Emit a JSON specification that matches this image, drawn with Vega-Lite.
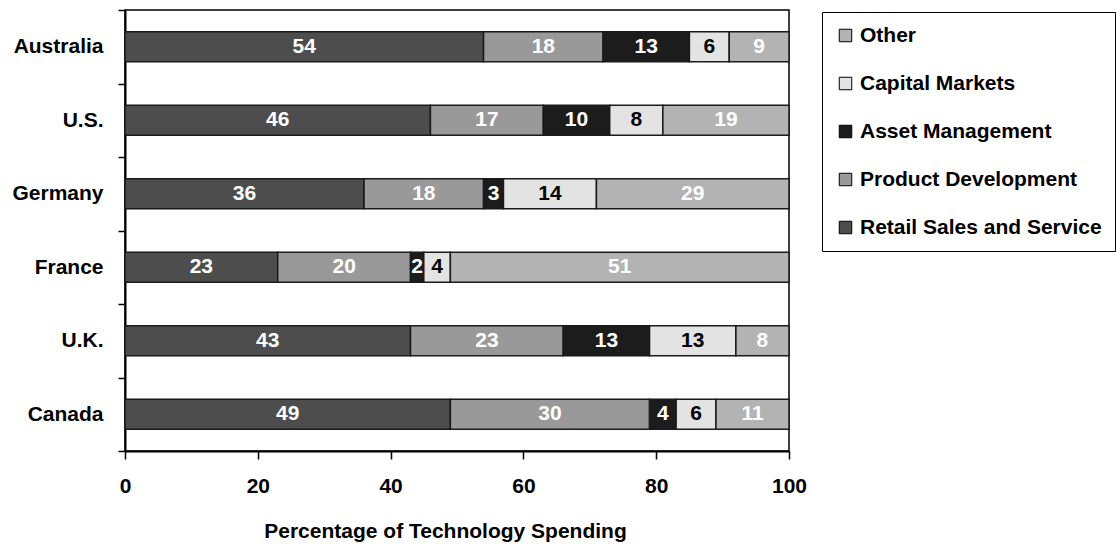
{
  "$schema": "https://vega.github.io/schema/vega-lite/v6.json",
  "width": 664,
  "height": 441,
  "autosize": "none",
  "padding": {"left": 125, "top": 10, "right": 327, "bottom": 93},
  "background": "white",
  "config": {
    "font": "Liberation Sans",
    "view": {"stroke": "black", "strokeWidth": 1.5}
  },
  "data": {
    "values": [
      {"country": "Australia", "category": "Retail Sales and Service", "value": 54},
      {"country": "Australia", "category": "Product Development", "value": 18},
      {"country": "Australia", "category": "Asset Management", "value": 13},
      {"country": "Australia", "category": "Capital Markets", "value": 6},
      {"country": "Australia", "category": "Other", "value": 9},
      {"country": "U.S.", "category": "Retail Sales and Service", "value": 46},
      {"country": "U.S.", "category": "Product Development", "value": 17},
      {"country": "U.S.", "category": "Asset Management", "value": 10},
      {"country": "U.S.", "category": "Capital Markets", "value": 8},
      {"country": "U.S.", "category": "Other", "value": 19},
      {"country": "Germany", "category": "Retail Sales and Service", "value": 36},
      {"country": "Germany", "category": "Product Development", "value": 18},
      {"country": "Germany", "category": "Asset Management", "value": 3},
      {"country": "Germany", "category": "Capital Markets", "value": 14},
      {"country": "Germany", "category": "Other", "value": 29},
      {"country": "France", "category": "Retail Sales and Service", "value": 23},
      {"country": "France", "category": "Product Development", "value": 20},
      {"country": "France", "category": "Asset Management", "value": 2},
      {"country": "France", "category": "Capital Markets", "value": 4},
      {"country": "France", "category": "Other", "value": 51},
      {"country": "U.K.", "category": "Retail Sales and Service", "value": 43},
      {"country": "U.K.", "category": "Product Development", "value": 23},
      {"country": "U.K.", "category": "Asset Management", "value": 13},
      {"country": "U.K.", "category": "Capital Markets", "value": 13},
      {"country": "U.K.", "category": "Other", "value": 8},
      {"country": "Canada", "category": "Retail Sales and Service", "value": 49},
      {"country": "Canada", "category": "Product Development", "value": 30},
      {"country": "Canada", "category": "Asset Management", "value": 4},
      {"country": "Canada", "category": "Capital Markets", "value": 6},
      {"country": "Canada", "category": "Other", "value": 11}
    ]
  },
  "transform": [
    {
      "calculate": "indexof(['Retail Sales and Service','Product Development','Asset Management','Capital Markets','Other'], datum.category)",
      "as": "catOrder"
    },
    {
      "stack": "value",
      "groupby": ["country"],
      "sort": [{"field": "catOrder", "order": "ascending"}],
      "as": ["v0", "v1"]
    },
    {"calculate": "(datum.v0 + datum.v1) / 2", "as": "vmid"}
  ],
  "encoding": {
    "y": {
      "field": "country",
      "type": "nominal",
      "sort": ["Australia", "U.S.", "Germany", "France", "U.K.", "Canada"],
      "scale": {"padding": 0},
      "axis": {
        "title": null,
        "tickBand": "extent",
        "tickSize": 7,
        "tickColor": "black",
        "tickWidth": 1.5,
        "domainColor": "black",
        "domainWidth": 2,
        "labelFontSize": 21,
        "labelFontWeight": "bold",
        "labelColor": "black",
        "labelPadding": 15
      }
    }
  },
  "layer": [
    {
      "mark": {"type": "bar", "stroke": "#1a1a1a", "strokeWidth": 1.5, "height": {"band": 0.41}},
      "encoding": {
        "x": {
          "field": "v0",
          "type": "quantitative",
          "scale": {"domain": [0, 100], "nice": false},
          "axis": {
            "title": "Percentage of Technology Spending",
            "values": [0, 20, 40, 60, 80, 100],
            "grid": false,
            "tickSize": 8,
            "tickColor": "black",
            "tickWidth": 1.5,
            "domainColor": "black",
            "domainWidth": 2,
            "labelFontSize": 21,
            "labelFontWeight": "bold",
            "labelColor": "black",
            "labelPadding": 16,
            "labelFlush": false,
            "titleFontSize": 21,
            "titleFontWeight": "bold",
            "titleColor": "black",
            "titlePadding": 24,
            "titleX": 320
          }
        },
        "x2": {"field": "v1"},
        "color": {
          "field": "category",
          "type": "nominal",
          "scale": {
            "domain": ["Retail Sales and Service", "Product Development", "Asset Management", "Capital Markets", "Other"],
            "range": ["#4d4d4d", "#999999", "#1c1c1c", "#e3e3e3", "#b3b3b3"]
          },
          "legend": {
            "title": null,
            "orient": "none",
            "legendX": 697,
            "legendY": 2,
            "values": ["Other", "Capital Markets", "Asset Management", "Product Development", "Retail Sales and Service"],
            "padding": 13,
            "strokeColor": "black",
            "rowPadding": 26,
            "symbolType": "square",
            "symbolSize": 156,
            "symbolStrokeColor": "black",
            "symbolStrokeWidth": 1,
            "symbolOpacity": 1,
            "labelFontSize": 21,
            "labelFontWeight": "bold",
            "labelColor": "black",
            "labelOffset": 4,
            "labelLimit": 400
          }
        }
      }
    },
    {
      "mark": {"type": "text", "fontSize": 21, "fontWeight": "bold", "align": "center", "baseline": "middle"},
      "encoding": {
        "x": {"field": "vmid", "type": "quantitative"},
        "text": {"field": "value", "type": "quantitative"},
        "color": {
          "condition": {"test": "datum.category === 'Capital Markets'", "value": "black"},
          "value": "white"
        }
      }
    }
  ]
}
